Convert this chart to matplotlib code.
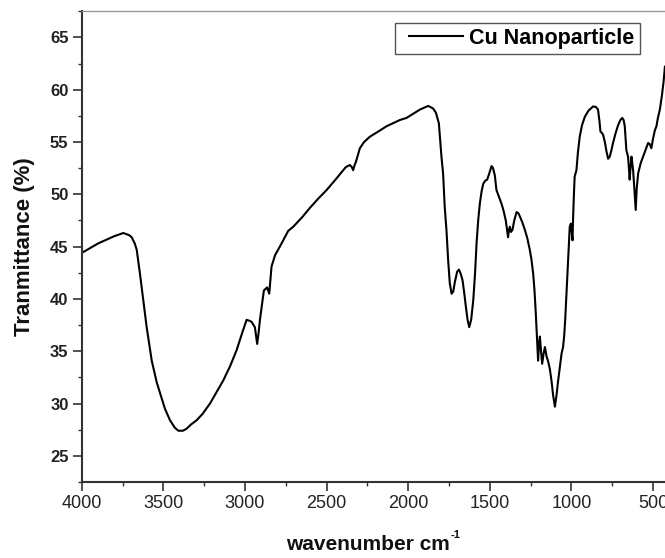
import matplotlib
matplotlib.use("Agg")
import matplotlib.pyplot as plt
from matplotlib.ticker import MultipleLocator
from matplotlib.legend_handler import HandlerLine2D
from matplotlib.lines import Line2D

wavenumber = [4000, 3977, 3900, 3857, 3800, 3745, 3710, 3694, 3675, 3663, 3643, 3623, 3602, 3571,
              3540, 3520, 3490, 3459, 3430, 3408, 3380, 3357, 3330, 3296, 3260, 3214, 3170, 3133,
              3090, 3051, 3020, 2990, 2970, 2959, 2939, 2925, 2916, 2908, 2884, 2864, 2851, 2837,
              2815, 2786, 2735, 2704, 2650, 2602, 2550, 2500, 2440, 2382, 2357, 2345, 2337, 2328,
              2320, 2296, 2270, 2235, 2173, 2133, 2051, 2010, 1928, 1877, 1847, 1830, 1812, 1796,
              1786, 1776, 1765, 1755, 1745, 1734, 1724, 1714, 1700, 1689, 1678, 1667, 1656, 1646,
              1636, 1626, 1614, 1601, 1590, 1581, 1571, 1561, 1550, 1540, 1528, 1516, 1503, 1489,
              1480, 1469, 1459, 1445, 1428, 1415, 1402, 1395, 1388, 1382, 1377, 1370, 1361, 1350,
              1336, 1325, 1316, 1300, 1285, 1270, 1255, 1245, 1234, 1226, 1218, 1210, 1204, 1198,
              1193, 1186, 1179, 1170, 1162, 1152, 1142, 1132, 1122, 1112, 1101, 1091, 1081, 1070,
              1060, 1051, 1044, 1038, 1030, 1020, 1010, 1003, 998, 993, 990, 985, 980, 969, 960,
              949, 935, 918, 895, 867, 850, 837, 828, 822, 815, 806, 795, 785, 775, 765, 755, 745,
              730, 714, 700, 688, 680, 673, 668, 663, 653, 648, 643, 638, 632, 627, 622, 614, 606,
              600, 591, 575, 561, 545, 530, 520, 510, 500, 489, 479, 470, 458, 445, 435, 427]
transmittance = [44.4, 44.6, 45.3, 45.6, 46.0, 46.3, 46.1, 45.9, 45.3, 44.7, 42.4, 39.9, 37.3, 34.1,
                 32.0, 31.0, 29.5, 28.4, 27.7, 27.4, 27.4, 27.6, 28.0, 28.4, 29.0, 30.0, 31.2, 32.2,
                 33.6, 35.1, 36.6, 38.0, 37.9, 37.8, 37.3, 35.7, 36.8, 38.0, 40.8, 41.1, 40.5, 43.1,
                 44.2, 45.0, 46.5, 46.9, 47.8, 48.7, 49.6, 50.4, 51.5, 52.6, 52.8, 52.6, 52.3, 52.8,
                 53.1, 54.4, 55.0, 55.5, 56.1, 56.5, 57.1, 57.3, 58.1, 58.45, 58.2, 57.8, 56.8, 53.6,
                 52.0, 48.8, 46.5, 43.7, 41.5, 40.5, 40.7, 41.6, 42.6, 42.8, 42.4, 41.8, 40.5, 39.2,
                 38.0, 37.3, 38.0, 39.9, 42.5, 45.3, 47.5, 49.1, 50.3, 51.0, 51.3, 51.4, 52.0, 52.7,
                 52.5, 51.8, 50.4, 49.8, 49.1, 48.4, 47.5, 46.7, 45.9, 46.6, 46.9, 46.4, 46.6, 47.5,
                 48.3, 48.2, 47.9, 47.3, 46.6, 45.8, 44.7, 43.8, 42.4, 40.8, 38.6, 36.0, 34.1, 35.8,
                 36.4, 35.0, 33.8, 34.8, 35.4, 34.5, 34.0, 33.3, 32.2, 30.8, 29.7, 30.8, 32.2, 33.6,
                 34.8, 35.4, 36.5, 38.0, 40.5, 43.8, 46.9, 47.2, 46.4, 45.6, 47.5, 49.8, 51.7, 52.3, 54.0,
                 55.5, 56.6, 57.4, 58.0, 58.4, 58.35, 58.1, 57.0, 56.0, 55.9, 55.7, 55.0, 54.1, 53.4, 53.6, 54.2, 54.9,
                 55.8, 56.6, 57.1, 57.3, 57.1, 56.5, 55.4, 54.2, 53.6, 52.6, 51.4, 52.5, 53.6, 53.0, 52.3, 50.5, 48.5,
                 50.5, 52.0, 53.0, 53.6, 54.3, 54.9, 54.8, 54.4, 55.3, 56.1, 56.5, 57.3, 58.1, 59.5, 60.8, 62.2]

series_label = "Cu Nanoparticle"
x_label = "wavenumber cm"
x_label_sup = "-1"
y_label = "Tranmittance (%)"
x_ticks = [4000, 3500, 3000, 2500, 2000, 1500, 1000, 500]
y_ticks = [25, 30, 35, 40, 45, 50, 55, 60, 65]

plt.rcParams['font.family'] = ['Liberation Sans', 'DejaVu Sans']

W, H = 665, 558
fig = plt.figure(figsize=(W / 100, H / 100), dpi=100)
ax = fig.add_axes([81.7/W, 1 - 482/H, 1 - 81.7/W, (482 - 10.7)/H])

line, = ax.plot(wavenumber, transmittance, color='black', lw=1.5, label=series_label)

ax.set_xlim(4000, 426.5)
ax.set_ylim(22.5, 67.55)
ax.set_xticks(x_ticks)
ax.set_yticks(y_ticks)
ax.xaxis.set_minor_locator(MultipleLocator(250))
ax.yaxis.set_minor_locator(MultipleLocator(2.5))

ax.tick_params(which='major', direction='out', length=6.5, width=1.2, color='#333333',
               labelcolor='#222222')
ax.tick_params(which='minor', direction='out', length=3, width=1.0, color='#333333')
ax.tick_params(axis='x', which='major', pad=3, labelsize=13)
ax.tick_params(axis='y', which='major', pad=3, labelsize=12)
for lab in ax.get_yticklabels():
    lab.set_fontweight('bold')

ax.spines['right'].set_visible(False)
ax.spines['left'].set_color('#333333')
ax.spines['bottom'].set_color('#333333')
ax.spines['left'].set_linewidth(1.5)
ax.spines['bottom'].set_linewidth(1.5)
ax.spines['top'].set_color('#999999')
ax.spines['top'].set_linewidth(1.0)

# x label with small superscript
xl = fig.text(368/W, 1 - 545/H, x_label, fontsize=15, fontweight='bold',
              ha='center', va='center', color='#111111')
fig.canvas.draw()
bb = xl.get_window_extent()
fig.text((bb.x1 + 1) / W, (bb.y1 - 4) / H, x_label_sup, fontsize=8, fontweight='bold',
         ha='left', va='bottom', color='#111111')

ax.set_ylabel(y_label, fontsize=16, fontweight='bold', labelpad=11, color='#111111')

leg = ax.legend(handles=[line], loc='upper right', frameon=True, fancybox=False, edgecolor='#555555',
                framealpha=1, prop={'weight': 'bold', 'size': 15.5}, handlelength=2.9, borderpad=0.25,
                handletextpad=0.3, borderaxespad=0,
                handler_map={Line2D: HandlerLine2D(xpad=0.4)})
leg.get_frame().set_linewidth(1.0)
leg.set_bbox_to_anchor((640/W, 1 - 22.5/H), transform=fig.transFigure)

fig.savefig("out.png", dpi=100)
